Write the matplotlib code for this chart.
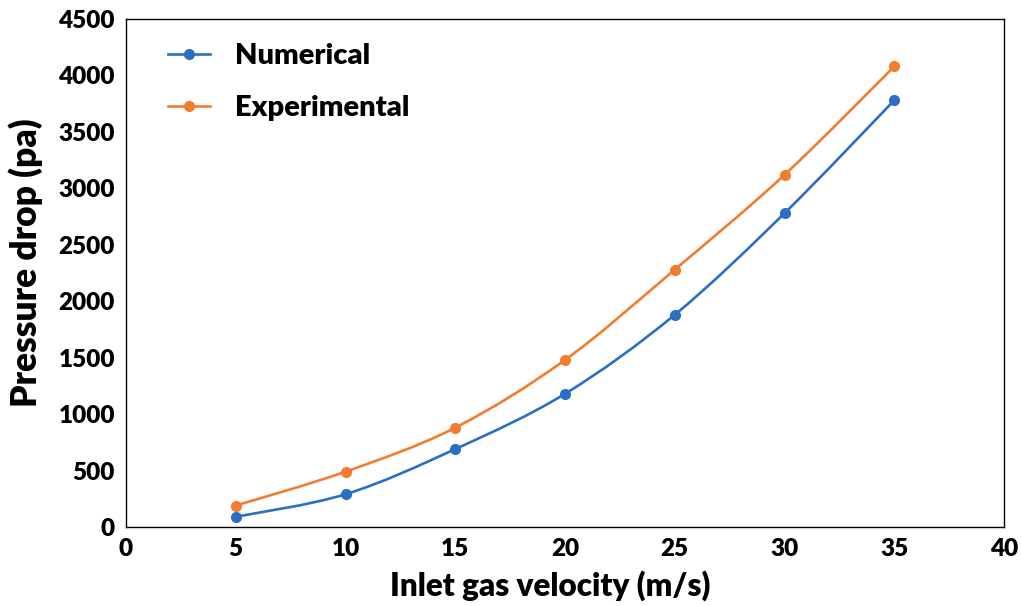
import matplotlib.pyplot as plt
import numpy as np
from matplotlib.path import Path
from matplotlib.patches import PathPatch

# values
velocity = [5, 10, 15, 20, 25, 30, 35]
numerical = [90, 290, 690, 1180, 1880, 2780, 3780]
experimental = [190, 490, 880, 1480, 2280, 3120, 4080]

blue = '#2a6fc4'
orange = '#f27d2e'

plt.rcParams['font.family'] = ['Lato', 'DejaVu Sans']
plt.rcParams['font.weight'] = 'heavy'


def smooth_path(x, y):
    # Excel style smoothed line: Catmull-Rom segments as cubic Bezier curves
    x = np.asarray(x, float)
    y = np.asarray(y, float)
    verts = [(x[0], y[0])]
    codes = [Path.MOVETO]
    n = len(x)
    for i in range(n - 1):
        x0, y0 = (x[i - 1], y[i - 1]) if i > 0 else (x[i], y[i])
        x3, y3 = (x[i + 2], y[i + 2]) if i + 2 < n else (x[i + 1], y[i + 1])
        c1 = (x[i] + (x[i + 1] - x0) / 6, y[i] + (y[i + 1] - y0) / 6)
        c2 = (x[i + 1] - (x3 - x[i]) / 6, y[i + 1] - (y3 - y[i]) / 6)
        verts += [c1, c2, (x[i + 1], y[i + 1])]
        codes += [Path.CURVE4] * 3
    return Path(verts, codes)


fig = plt.figure(figsize=(10.21, 6.06), dpi=100)
ax = fig.add_axes([0.1234, 0.1304, 0.86, 0.8382])

for vals, col, name in [(numerical, blue, 'Numerical'),
                        (experimental, orange, 'Experimental')]:
    ax.add_patch(PathPatch(smooth_path(velocity, vals), facecolor='none',
                           edgecolor=col, lw=1.9))
    ax.plot(velocity, vals, linestyle='none', marker='o', markersize=7,
            color=col)
    # legend proxy
    ax.plot([], [], color=col, lw=1.9, marker='o', markersize=7, label=name)

ax.set_xlim(0, 40)
ax.set_ylim(0, 4500)
ax.set_xticks(np.arange(0, 41, 5))
ax.set_yticks(np.arange(0, 4501, 500))
ax.tick_params(length=0, labelsize=17.5, pad=8)
for s in ax.spines.values():
    s.set_linewidth(1.0)
    s.set_color('black')

ax.set_xlabel('Inlet gas velocity (m/s)', fontsize=22.7, fontweight='heavy')
ax.set_ylabel('Pressure drop (pa)', fontsize=25.5, fontweight='heavy')
# label positions in axes fraction, the original is a little off centre
ax.xaxis.set_label_coords(0.483, -0.085)
ax.yaxis.set_label_coords(-0.095, 0.52)

ax.legend(loc='upper left', bbox_to_anchor=(0.018, 1.005), frameon=False,
          handlelength=1.45, handletextpad=0.85, labelspacing=0.9,
          prop={'weight': 'heavy', 'size': 21})

fig.savefig('out.png', dpi=100)
